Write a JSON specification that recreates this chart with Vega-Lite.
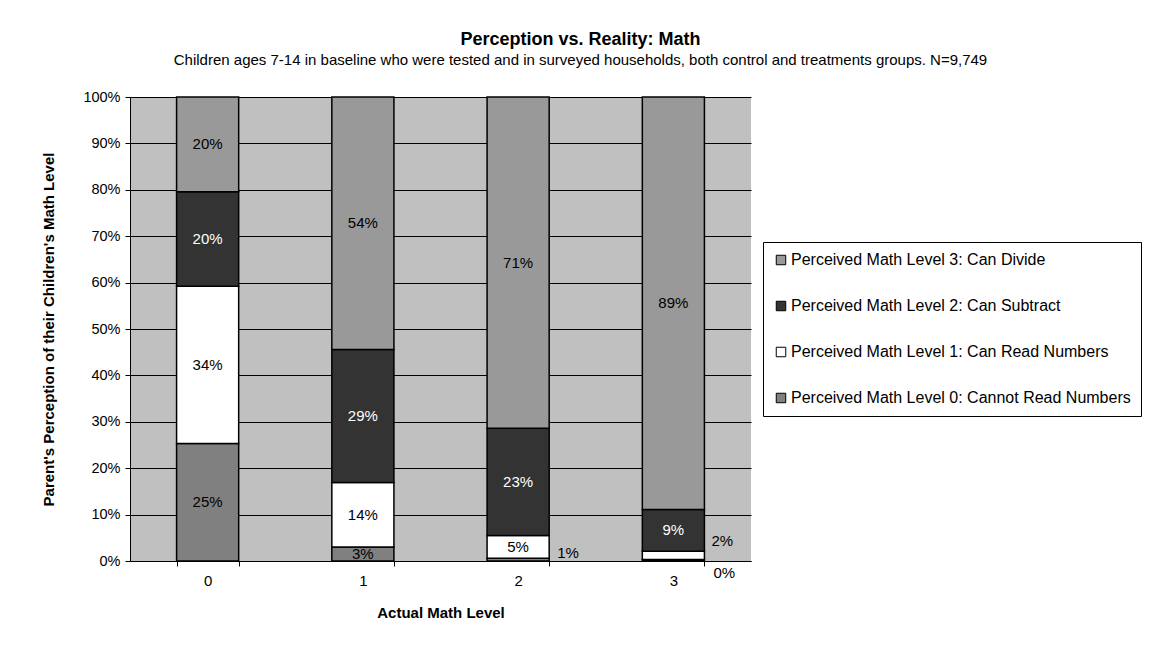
{
  "$schema": "https://vega.github.io/schema/vega-lite/v6.json",
  "autosize": "none",
  "width": 621,
  "height": 464,
  "padding": {"left": 130, "top": 97, "right": 409, "bottom": 86},
  "background": "white",
  "title": {
    "text": "Perception vs. Reality: Math",
    "subtitle": "Children ages 7-14 in baseline who were tested and in surveyed households, both control and treatments groups.  N=9,749",
    "anchor": "middle",
    "dx": 140,
    "offset": 21,
    "font": "Liberation Sans",
    "fontSize": 18,
    "fontWeight": "bold",
    "color": "black",
    "subtitleFont": "Liberation Sans",
    "subtitleFontSize": 15,
    "subtitleColor": "black",
    "subtitlePadding": 4
  },
  "config": {
    "view": {"fill": "#c0c0c0", "stroke": null},
    "font": "Liberation Sans"
  },
  "data": {
    "values": [
      {"actual": "0", "level": 0, "perceived": "Perceived Math Level 0: Cannot Read Numbers", "value": 0.253},
      {"actual": "0", "level": 1, "perceived": "Perceived Math Level 1: Can Read Numbers", "value": 0.339},
      {"actual": "0", "level": 2, "perceived": "Perceived Math Level 2: Can Subtract", "value": 0.204},
      {"actual": "0", "level": 3, "perceived": "Perceived Math Level 3: Can Divide", "value": 0.204},
      {"actual": "1", "level": 0, "perceived": "Perceived Math Level 0: Cannot Read Numbers", "value": 0.030},
      {"actual": "1", "level": 1, "perceived": "Perceived Math Level 1: Can Read Numbers", "value": 0.139},
      {"actual": "1", "level": 2, "perceived": "Perceived Math Level 2: Can Subtract", "value": 0.287},
      {"actual": "1", "level": 3, "perceived": "Perceived Math Level 3: Can Divide", "value": 0.544},
      {"actual": "2", "level": 0, "perceived": "Perceived Math Level 0: Cannot Read Numbers", "value": 0.006},
      {"actual": "2", "level": 1, "perceived": "Perceived Math Level 1: Can Read Numbers", "value": 0.049},
      {"actual": "2", "level": 2, "perceived": "Perceived Math Level 2: Can Subtract", "value": 0.231},
      {"actual": "2", "level": 3, "perceived": "Perceived Math Level 3: Can Divide", "value": 0.714},
      {"actual": "3", "level": 0, "perceived": "Perceived Math Level 0: Cannot Read Numbers", "value": 0.003},
      {"actual": "3", "level": 1, "perceived": "Perceived Math Level 1: Can Read Numbers", "value": 0.018},
      {"actual": "3", "level": 2, "perceived": "Perceived Math Level 2: Can Subtract", "value": 0.090},
      {"actual": "3", "level": 3, "perceived": "Perceived Math Level 3: Can Divide", "value": 0.889}
    ]
  },
  "transform": [
    {"stack": "value", "groupby": ["actual"], "sort": [{"field": "level", "order": "ascending"}], "as": ["v0", "v1"]},
    {"calculate": "(datum.v0 + datum.v1) / 2", "as": "mid"}
  ],
  "encoding": {
    "x": {
      "field": "actual",
      "type": "nominal",
      "scale": {"paddingInner": 0.6, "paddingOuter": 0.3},
      "axis": {
        "title": "Actual Math Level",
        "titleFont": "Liberation Sans",
        "titleFontSize": 15,
        "titleFontWeight": "bold",
        "titleColor": "black",
        "titlePadding": 17,
        "labelAngle": 0,
        "labelFont": "Liberation Sans",
        "labelFontSize": 15,
        "labelColor": "black",
        "labelPadding": 7,
        "tickBand": "extent",
        "tickColor": "black",
        "tickSize": 5,
        "domainColor": "black",
        "grid": false
      }
    }
  },
  "layer": [
    {
      "mark": {"type": "bar", "stroke": "black", "strokeWidth": 1.5},
      "encoding": {
        "y": {
          "field": "v0",
          "type": "quantitative",
          "scale": {"domain": [0, 1]},
          "axis": {
            "title": "Parent's Perception of their Children's Math Level",
            "titleFont": "Liberation Sans",
            "titleFontSize": 15,
            "titleFontWeight": "bold",
            "titleColor": "black",
            "titlePadding": 26,
            "format": "0%",
            "values": [0, 0.1, 0.2, 0.3, 0.4, 0.5, 0.6, 0.7, 0.8, 0.9, 1],
            "labelFont": "Liberation Sans",
            "labelFontSize": 14.5,
            "labelColor": "black",
            "labelPadding": 5,
            "tickColor": "black",
            "tickSize": 5,
            "domainColor": "black",
            "grid": true,
            "gridColor": "black",
            "gridOpacity": 1,
            "gridWidth": 1
          }
        },
        "y2": {"field": "v1"},
        "color": {
          "field": "perceived",
          "type": "nominal",
          "scale": {
            "domain": [
              "Perceived Math Level 3: Can Divide",
              "Perceived Math Level 2: Can Subtract",
              "Perceived Math Level 1: Can Read Numbers",
              "Perceived Math Level 0: Cannot Read Numbers"
            ],
            "range": ["#999999", "#333333", "#ffffff", "#808080"]
          },
          "legend": {
            "title": null,
            "orient": "none",
            "legendX": 633,
            "legendY": 145,
            "padding": 10,
            "strokeColor": "black",
            "fillColor": "white",
            "symbolType": "square",
            "symbolSize": 90,
            "symbolStrokeColor": "black",
            "symbolStrokeWidth": 1,
            "symbolOpacity": 1,
            "labelFont": "Liberation Sans",
            "labelFontSize": 16,
            "labelColor": "black",
            "labelLimit": 500,
            "rowPadding": 30,
            "labelOffset": 2
          }
        }
      }
    },
    {
      "transform": [{"filter": "!((datum.actual == '2' && datum.level == 0) || (datum.actual == '3' && datum.level <= 1))"}],
      "mark": {"type": "text", "font": "Liberation Sans", "fontSize": 15},
      "encoding": {
        "y": {"field": "mid", "type": "quantitative"},
        "text": {"field": "value", "type": "quantitative", "format": ".0%"},
        "color": {"condition": {"test": "datum.level == 2", "value": "white"}, "value": "black"}
      }
    },
    {
      "transform": [{"filter": "datum.actual == '2' && datum.level == 0"}],
      "mark": {"type": "text", "font": "Liberation Sans", "fontSize": 15, "dx": 50, "dy": -7, "color": "black"},
      "encoding": {
        "y": {"field": "mid", "type": "quantitative"},
        "text": {"field": "value", "type": "quantitative", "format": ".0%"}
      }
    },
    {
      "transform": [{"filter": "datum.actual == '3' && datum.level == 1"}],
      "mark": {"type": "text", "font": "Liberation Sans", "fontSize": 15, "dx": 49, "dy": -14, "color": "black"},
      "encoding": {
        "y": {"field": "mid", "type": "quantitative"},
        "text": {"field": "value", "type": "quantitative", "format": ".0%"}
      }
    },
    {
      "transform": [{"filter": "datum.actual == '3' && datum.level == 0"}],
      "mark": {"type": "text", "font": "Liberation Sans", "fontSize": 15, "dx": 51, "dy": 13, "color": "black"},
      "encoding": {
        "y": {"field": "mid", "type": "quantitative"},
        "text": {"field": "value", "type": "quantitative", "format": ".0%"}
      }
    }
  ]
}
